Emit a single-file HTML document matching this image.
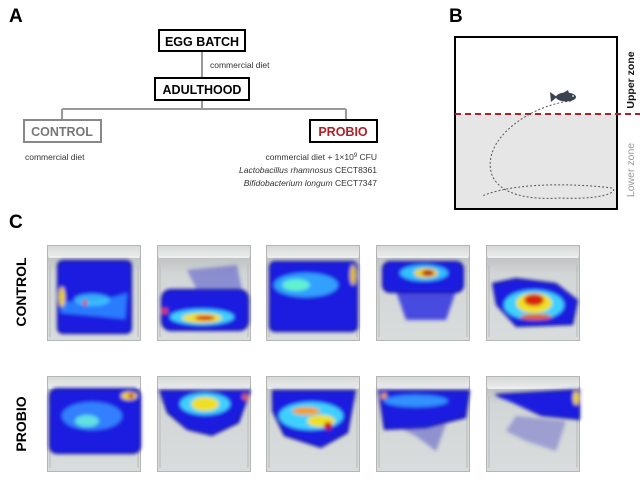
<!DOCTYPE html>
<html><head><meta charset="utf-8"><style>
body{margin:0;background:#fff;}
svg{display:block;font-family:"Liberation Sans",Arial,sans-serif;}
</style></head><body>
<svg width="640" height="490" viewBox="0 0 640 490" xmlns="http://www.w3.org/2000/svg">
<defs>
<filter id="bl" x="-20%" y="-20%" width="140%" height="140%"><feGaussianBlur stdDeviation="1.8"/></filter>
<linearGradient id="tank" x1="0" y1="0" x2="0" y2="1">
<stop offset="0" stop-color="#d6d8d8"/><stop offset="0.11" stop-color="#e8eaea"/><stop offset="0.14" stop-color="#c0c4c4"/><stop offset="0.3" stop-color="#d2d6d6"/><stop offset="1" stop-color="#d8dcdc"/></linearGradient>
<g id="tk"><rect x="0" y="0" width="94" height="96" fill="url(#tank)"/><rect x="0.5" y="0.5" width="93" height="95" fill="none" stroke="#b5b5b5" stroke-width="1"/><line x1="2" y1="12" x2="92" y2="12" stroke="#f6f6f6" stroke-width="1.5"/><line x1="3" y1="20" x2="3" y2="92" stroke="#bbb" stroke-width="1"/><line x1="91" y1="20" x2="91" y2="92" stroke="#bbb" stroke-width="1"/></g>
</defs>
<text x="9" y="22" font-size="19" font-weight="bold">A</text>
<text x="449" y="22" font-size="19" font-weight="bold">B</text>
<text x="9" y="228" font-size="19" font-weight="bold">C</text>
<g stroke="#999" stroke-width="2" fill="none">
<line x1="202" y1="51" x2="202" y2="78"/>
<line x1="202" y1="100" x2="202" y2="109"/>
<line x1="62" y1="109" x2="346" y2="109"/>
<line x1="62" y1="109" x2="62" y2="120"/>
<line x1="346" y1="109" x2="346" y2="120"/>
</g>
<rect x="159" y="30" width="86" height="21" fill="#fff" stroke="#000" stroke-width="2"/>
<text x="202" y="46" font-size="12.5" font-weight="bold" text-anchor="middle">EGG BATCH</text>
<text x="210" y="68" font-size="8.5" fill="#333">commercial diet</text>
<rect x="155" y="78" width="94" height="22" fill="#fff" stroke="#000" stroke-width="2"/>
<text x="202" y="94" font-size="12.5" font-weight="bold" text-anchor="middle">ADULTHOOD</text>
<rect x="24" y="120" width="77" height="22" fill="#fff" stroke="#888" stroke-width="2"/>
<text x="62" y="136" font-size="12.5" font-weight="bold" text-anchor="middle" fill="#777">CONTROL</text>
<rect x="310" y="120" width="67" height="22" fill="#fff" stroke="#000" stroke-width="2"/>
<text x="343" y="136" font-size="12.5" font-weight="bold" text-anchor="middle" fill="#b0202a">PROBIO</text>
<text x="25" y="160" font-size="8.5" fill="#333">commercial diet</text>
<g font-size="8.5" fill="#333" text-anchor="end">
<text x="377" y="160">commercial diet + 1×10<tspan font-size="6" dy="-3">9</tspan><tspan dy="3"> CFU</tspan></text>
<text x="377" y="173"><tspan font-style="italic">Lactobacillus rhamnosus</tspan> CECT8361</text>
<text x="377" y="186"><tspan font-style="italic">Bifidobacterium longum</tspan> CECT7347</text>
</g>
<rect x="455" y="114" width="162" height="95" fill="#e6e6e6"/>
<rect x="455" y="37" width="162" height="172" fill="none" stroke="#000" stroke-width="2"/>
<line x1="455" y1="114" x2="640" y2="114" stroke="#b0202a" stroke-width="2" stroke-dasharray="6,4"/>
<path d="M571 101 C 530 105, 480 140, 492 175 C 500 195, 530 200, 560 198 C 610 200, 618 190, 612 188 C 590 185, 520 180, 482 196" fill="none" stroke="#555" stroke-width="1" stroke-dasharray="2,2"/>
<g transform="translate(566,97)"><ellipse cx="0" cy="0" rx="10" ry="4.5" fill="#3a4250"/><path d="M-9 0 L-16 -5 L-15 5 Z" fill="#3a4250"/><path d="M-3 -4 L2 -7 L3 -4Z" fill="#3a4250"/><circle cx="7" cy="-1" r="1" fill="#ccc"/></g>
<text transform="translate(634,80) rotate(-90)" font-size="10.5" font-weight="bold" text-anchor="middle" fill="#111">Upper zone</text>
<text transform="translate(634,170) rotate(-90)" font-size="10.5" text-anchor="middle" fill="#999">Lower zone</text>
<text transform="translate(26,292) rotate(-90)" font-size="14" font-weight="bold" text-anchor="middle">CONTROL</text>
<text transform="translate(26,424) rotate(-90)" font-size="14" font-weight="bold" text-anchor="middle">PROBIO</text>
<!-- Control row -->
<g transform="translate(47,245)"><use href="#tk"/>
<g filter="url(#bl)"><rect x="10" y="15" width="75" height="74" rx="6" fill="#0a0aa8"/><rect x="12" y="17" width="71" height="70" rx="5" fill="#1a1ae0"/><path d="M14 55 Q40 62 80 48 L78 74 Q40 70 14 68Z" fill="#2a7cff"/><ellipse cx="45" cy="55" rx="18" ry="6" fill="#3fd0ff" opacity=".8"/><ellipse cx="15" cy="52" rx="3" ry="10" fill="#f0d020"/><circle cx="38" cy="58" r="2.5" fill="#e03010"/></g></g>
<g transform="translate(157,245)"><use href="#tk"/>
<g filter="url(#bl)"><rect x="4" y="44" width="88" height="42" rx="10" fill="#0a0aa8"/><rect x="6" y="46" width="84" height="38" rx="9" fill="#1a1ae0"/><path d="M30 25 L80 20 L85 45 L40 45Z" fill="#3030c8" opacity=".45"/><ellipse cx="45" cy="72" rx="32" ry="8" fill="#40d0ff"/><ellipse cx="45" cy="73" rx="20" ry="5" fill="#f0e020"/><ellipse cx="48" cy="73" rx="10" ry="2.5" fill="#d82010"/><circle cx="8" cy="66" r="3" fill="#e04010"/></g></g>
<g transform="translate(266,245)"><use href="#tk"/>
<g filter="url(#bl)"><rect x="3" y="16" width="89" height="71" rx="6" fill="#0a0aa8"/><rect x="5" y="18" width="85" height="67" rx="5" fill="#1a1ae0"/><ellipse cx="40" cy="40" rx="32" ry="12" fill="#30a0ff"/><ellipse cx="30" cy="40" rx="14" ry="6" fill="#60f0d0"/><ellipse cx="87" cy="30" rx="3" ry="10" fill="#e0c020"/></g></g>
<g transform="translate(376,245)"><use href="#tk"/>
<g filter="url(#bl)"><path d="M20 46 L80 46 L70 75 L30 75Z" fill="#1a1ae0" opacity=".75"/><rect x="6" y="16" width="82" height="32" rx="8" fill="#0a0aa8"/><rect x="8" y="18" width="78" height="28" rx="7" fill="#1a1ae0"/><ellipse cx="48" cy="28" rx="24" ry="8" fill="#30c0ff"/><ellipse cx="50" cy="28" rx="12" ry="5" fill="#f0d020"/><ellipse cx="52" cy="28" rx="6" ry="3" fill="#b01010"/></g></g>
<g transform="translate(486,245)"><use href="#tk"/>
<g filter="url(#bl)"><path d="M6 38 L30 33 L70 38 L92 55 L87 80 L30 82 L10 60Z" fill="#0a0aa8"/><path d="M8 40 L30 35 L70 40 L90 55 L85 78 L30 80 L12 60Z" fill="#1a1ae0"/><ellipse cx="48" cy="60" rx="30" ry="15" fill="#3fd0ff"/><ellipse cx="48" cy="58" rx="18" ry="10" fill="#f0e020"/><ellipse cx="48" cy="55" rx="10" ry="6" fill="#d82010"/><ellipse cx="50" cy="72" rx="16" ry="3" fill="#e06010"/></g></g>
<!-- Probio row -->
<g transform="translate(47,376)"><use href="#tk"/>
<g filter="url(#bl)"><rect x="2" y="12" width="92" height="66" rx="8" fill="#0a0aa8"/><rect x="4" y="14" width="88" height="62" rx="7" fill="#1a1ae0"/><ellipse cx="45" cy="40" rx="30" ry="14" fill="#3080ff"/><ellipse cx="40" cy="45" rx="12" ry="6" fill="#60e0e0"/><ellipse cx="82" cy="20" rx="8" ry="4" fill="#f0d020"/><circle cx="84" cy="20" r="2.5" fill="#c01010"/></g></g>
<g transform="translate(157,376)"><use href="#tk"/>
<g filter="url(#bl)"><path d="M2 14 L94 14 L82 47 L55 60 L30 54 L10 37Z" fill="#0a0aa8"/><path d="M4 16 L92 16 L80 45 L55 58 L30 52 L12 35Z" fill="#1a1ae0"/><ellipse cx="48" cy="28" rx="25" ry="11" fill="#40d0ff"/><ellipse cx="48" cy="28" rx="14" ry="7" fill="#f0e020"/><circle cx="88" cy="21" r="3" fill="#e06010"/></g></g>
<g transform="translate(266,376)"><use href="#tk"/>
<g filter="url(#bl)"><path d="M6 14 L90 14 L82 57 L55 72 L18 60 L6 35Z" fill="#0a0aa8"/><path d="M8 16 L88 16 L80 55 L55 70 L20 58 L8 35Z" fill="#1a1ae0"/><ellipse cx="45" cy="40" rx="32" ry="14" fill="#40d0ff"/><ellipse cx="40" cy="35" rx="14" ry="4" fill="#f0a020"/><ellipse cx="55" cy="45" rx="14" ry="6" fill="#f0e020"/><circle cx="62" cy="50" r="4" fill="#c01010"/></g></g>
<g transform="translate(376,376)"><use href="#tk"/>
<g filter="url(#bl)"><path d="M2 14 L94 14 L90 42 L50 52 L8 54Z" fill="#0a0aa8"/><path d="M4 16 L92 16 L88 40 L50 50 L10 52Z" fill="#1a1ae0"/><path d="M20 50 L70 48 L60 75 L40 60Z" fill="#2020c0" opacity=".4"/><ellipse cx="40" cy="25" rx="32" ry="6" fill="#3090ff"/><circle cx="8" cy="20" r="3" fill="#f0a020"/></g></g>
<g transform="translate(486,376)"><use href="#tk"/>
<g filter="url(#bl)"><path d="M30 40 L80 45 L70 75 L40 65 L20 55Z" fill="#3030c0" opacity=".35"/><path d="M8 18 L94 13 L94 44 L55 40Z" fill="#0a0aa8"/><path d="M10 20 L92 15 L92 42 L55 38Z" fill="#1a1ae0"/><ellipse cx="90" cy="22" rx="3" ry="7" fill="#f0d020"/></g></g>
</svg>
</body></html>
